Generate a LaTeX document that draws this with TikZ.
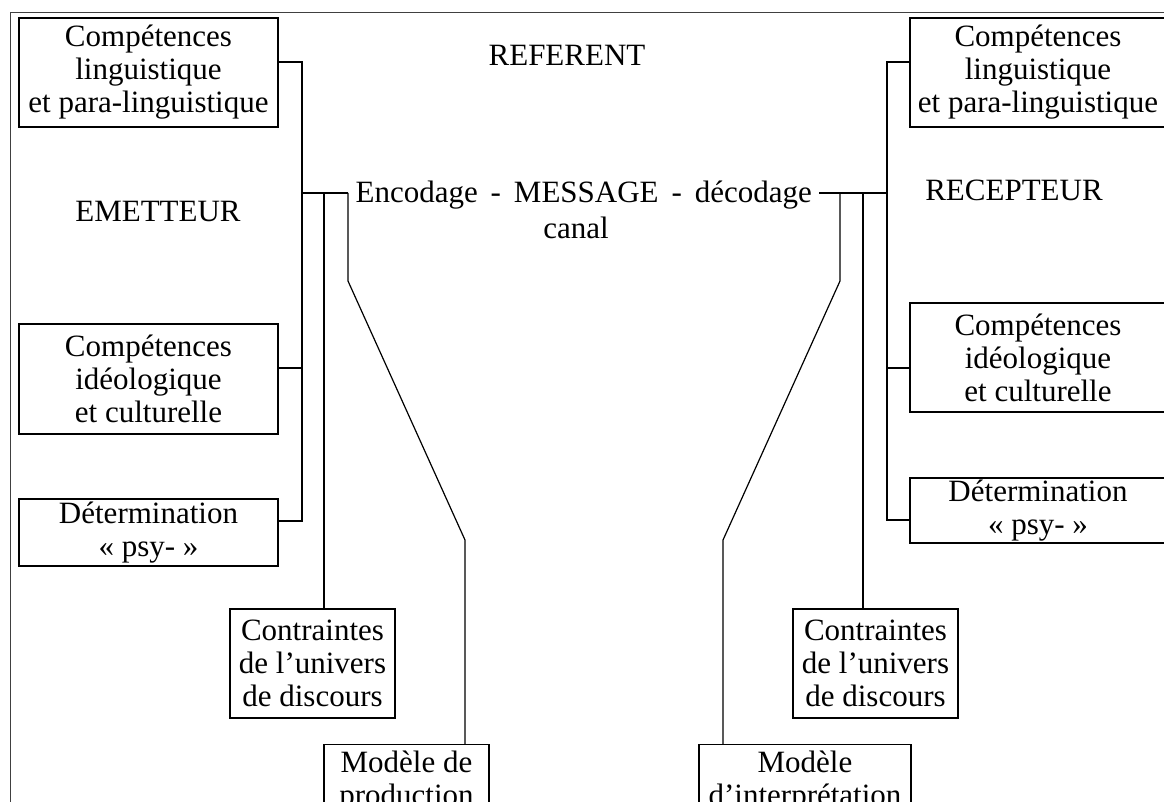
\documentclass[tikz,border=0pt]{standalone}
\usepackage{fontspec}
\setmainfont{Liberation Serif}
\begin{document}
\begin{tikzpicture}[x=1pt,y=-1pt,line width=1.2pt,
  box/.style={draw,align=center,inner sep=0pt,font=\fontsize{31}{33}\selectfont},
  lbl/.style={inner sep=0pt,font=\fontsize{31}{33}\selectfont},
  frame/.style={line width=1pt,black!75}]
\useasboundingbox (0,0) rectangle (1164,802);
\fill[white] (0,0) rectangle (1164,802);
\draw[frame] (10,815) -- (10,13) -- (1175,13);
% left boxes
\node[box,minimum width=259pt,minimum height=109pt] (L1) at (148.5,72.5) {Compétences\\linguistique\\et para-linguistique};
\node[box,minimum width=259pt,minimum height=110pt] (L2) at (148.5,379) {Compétences\\idéologique\\et culturelle};
\node[box,minimum width=259pt,minimum height=67pt] (L3) at (148.5,532.5) {Détermination\\« psy- »};
\node[box,minimum width=165pt,minimum height=109pt] (CL) at (312.5,663.5) {Contraintes\\de l’univers\\de discours};
\node[box,minimum width=165pt,inner ysep=6pt,anchor=north] (MP) at (406.5,744) {Modèle de\\production};
% right boxes
\node[box,minimum width=256pt,minimum height=109pt] (R1) at (1038,72.5) {Compétences\\linguistique\\et para-linguistique};
\node[box,minimum width=256pt,minimum height=109pt] (R2) at (1038,357.5) {Compétences\\idéologique\\et culturelle};
\node[box,minimum width=256pt,minimum height=65pt] (R3) at (1038,510.5) {Détermination\\« psy- »};
\node[box,minimum width=165pt,minimum height=109pt] (CR) at (875.5,663.5) {Contraintes\\de l’univers\\de discours};
\node[box,minimum width=212pt,inner ysep=6pt,anchor=north] (MI) at (805,744) {Modèle\\d’interprétation};
% labels
\node[lbl] (ref) at (567,55) {REFERENT};
\node[lbl] (em) at (158,212) {EMETTEUR};
\node[lbl] (rec) at (1014,190) {RECEPTEUR};
\node[lbl,inner xsep=7pt,anchor=base west] (msg) at (348,203) {Encodage\, - \,MESSAGE\, - \,décodage};
\node[lbl] (canal) at (576,228) {canal};
% left connectors
\coordinate (lt) at (302,62);
\coordinate (lmid) at (302,193);
\coordinate (l2j) at (302,368);
\coordinate (lb) at (302,521);
\draw (L1.east |- lt) -- (lt) -- (lb) -- (L3.east |- lb);
\draw (L2.east |- l2j) -- (l2j);
\draw (lmid) -- (msg.west |- lmid);
\coordinate (cv) at (324,193);
\draw (cv) -- (CL.north -| cv);
\coordinate (pa) at (348,193);
\coordinate (pb) at (348,281);
\coordinate (pc) at (465,540);
\draw (pa) -- (pb) -- (pc) -- (MP.north -| pc);
% right connectors
\coordinate (rt) at (887,62);
\coordinate (rmid) at (887,193);
\coordinate (r2j) at (887,368);
\coordinate (rb) at (887,520);
\draw (R1.west |- rt) -- (rt) -- (rb) -- (R3.west |- rb);
\draw (R2.west |- r2j) -- (r2j);
\draw (msg.east |- rmid) -- (rmid);
\coordinate (cr) at (863,193);
\draw (cr) -- (CR.north -| cr);
\coordinate (qa) at (840,193);
\coordinate (qb) at (840,281);
\coordinate (qc) at (723,540);
\draw (qa) -- (qb) -- (qc) -- (MI.north -| qc);
\end{tikzpicture}
\end{document}
